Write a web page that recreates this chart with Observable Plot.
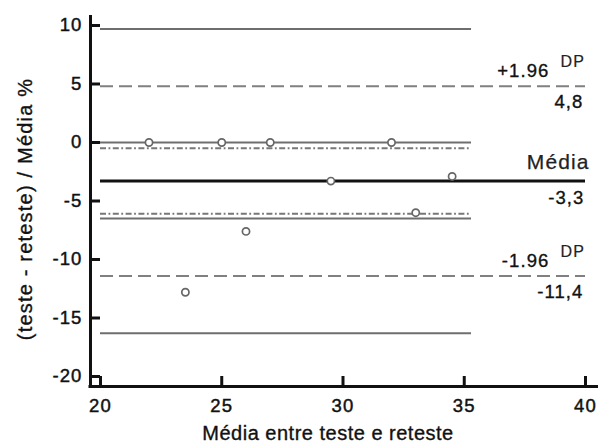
<!DOCTYPE html>
<html><head><meta charset="utf-8">
<script src="https://cdn.jsdelivr.net/npm/d3@7"></script>
<script src="https://cdn.jsdelivr.net/npm/@observablehq/plot@0.6"></script>
<style>
html,body{margin:0;padding:0;background:#fff;}
#chart svg{display:block;}
#chart svg text{letter-spacing:1.1px;}
</style></head><body><div id="chart"></div>
<script>
// ---- data ----
const xTicks = [20, 25, 30, 35, 40];
const yTicks = [10, 5, 0, -5, -10, -15, -20];
const xDomain = [20, 40];
const yDomain = [-20, 10];
const pointX = [22, 25, 27, 32, 29.5, 34.5, 33, 26, 23.5];
const pointY = [0, 0, 0, 0, -3.3, -2.9, -6.0, -7.6, -12.8];
const meanValue = [-3.3];
const limitValues = [4.8, -11.4];
const meanCI = [-0.5, -6.1];
const limitCI = [9.7, 0, -6.5, -16.3];
const shortSpan = [20, 35.3];
const fullSpan = [20, 40];
const limitLabels = ["+1.96", "-1.96"];
const limitUnit = ["DP", "DP"];
const limitValueLabels = ["4,8", "-11,4"];
const meanLabel = ["Média"];
const meanValueLabel = ["-3,3"];
const xLabel = "Média entre teste e reteste";
const yLabel = "(teste - reteste) / Média %";

const points = pointX.map((x, i) => ({x, y: pointY[i]}));
const font = "Liberation Sans, Arial, Helvetica, sans-serif";
const ink = {fill: "#111", stroke: "#111", strokeWidth: 0.35};

const chart = Plot.plot({
  width: 598,
  height: 444,
  marginLeft: 100,
  marginRight: 13,
  marginTop: 25,
  marginBottom: 68,
  style: {fontFamily: font, fontSize: "18.5px", color: "#111", background: "#fff"},
  x: {domain: xDomain},
  y: {domain: yDomain},
  marks: [
    // reference lines
    Plot.ruleY(limitCI, {y: d => d, x1: shortSpan[0], x2: shortSpan[1], stroke: "#6e6e6e", strokeWidth: 2}),
    Plot.ruleY(meanCI, {y: d => d, x1: shortSpan[0], x2: shortSpan[1], stroke: "#777", strokeWidth: 2, strokeDasharray: "6,2.5,1.8,2.5"}),
    Plot.ruleY(limitValues, {y: d => d, x1: fullSpan[0], x2: fullSpan[1], stroke: "#808080", strokeWidth: 2, strokeDasharray: "13,6"}),
    Plot.ruleY(meanValue, {y: d => d, x1: fullSpan[0], x2: fullSpan[1], stroke: "#111", strokeWidth: 3}),
    // points
    Plot.dot(points, {x: "x", y: "y", r: 3.6, stroke: "#666", strokeWidth: 1.7, fill: "#fff"}),
    // annotations
    Plot.text(limitValues, {x: () => fullSpan[1], y: d => d, text: (d, i) => limitLabels[i], textAnchor: "end", lineAnchor: "bottom", dx: -36, dy: -9, fontSize: 18.5, ...ink}),
    Plot.text(limitValues, {x: () => fullSpan[1], y: d => d, text: (d, i) => limitUnit[i], textAnchor: "start", lineAnchor: "bottom", dx: -25, dy: -19, fontSize: 16, fill: "#222", stroke: "#222", strokeWidth: 0.2}),
    Plot.text(limitValues, {x: () => fullSpan[1], y: d => d, text: (d, i) => limitValueLabels[i], textAnchor: "end", lineAnchor: "bottom", dx: -2, dy: 22, fontSize: 18.5, ...ink}),
    Plot.text(meanValue, {x: () => fullSpan[1], y: d => d, text: (d, i) => meanLabel[i], textAnchor: "end", lineAnchor: "bottom", dx: 4, dy: -12, fontSize: 21, fill: "#222", stroke: "#222", strokeWidth: 0.25}),
    Plot.text(meanValue, {x: () => fullSpan[1], y: d => d, text: (d, i) => meanValueLabel[i], textAnchor: "end", lineAnchor: "bottom", dx: -1, dy: 23, fontSize: 18.5, ...ink}),
    // axes
    Plot.ruleX([xDomain[0]], {dx: -10, insetTop: -10, insetBottom: -10, stroke: "#111", strokeWidth: 3}),
    Plot.ruleY([yDomain[0]], {dy: 10, insetLeft: -11.5, insetRight: -13, stroke: "#111", strokeWidth: 3}),
    Plot.axisY({ticks: yTicks, tickSize: -10, dx: -10, tickPadding: 18, tickFormat: d => String(d), label: null, stroke: "#111", strokeWidth: 3, fontSize: 18.5, fill: "#111"}),
    Plot.axisX({ticks: xTicks, tickSize: -10, dy: 10, tickPadding: 22, tickFormat: d => String(d), label: null, stroke: "#111", strokeWidth: 3, fontSize: 18.5, fill: "#111"}),
    Plot.text([xLabel], {text: d => d, frameAnchor: "bottom", textAnchor: "middle", lineAnchor: "bottom", dx: -15, dy: 63, fontSize: 20, ...ink}),
    Plot.text([yLabel], {text: d => d, frameAnchor: "left", textAnchor: "middle", rotate: -90, lineAnchor: "middle", dx: -75, dy: 8, fontSize: 20, ...ink})
  ]
});
// thicken axis tick labels slightly and tune label spacing
d3.select(chart).selectAll("g[aria-label$='tick label']")
  .attr("stroke", "#111").attr("stroke-width", 0.45);
d3.select(chart).selectAll("text").filter(function () { return this.textContent === xLabel; })
  .style("letter-spacing", "0.5px");
d3.select(chart).selectAll("text").filter(function () { return this.textContent === yLabel; })
  .style("letter-spacing", "1.2px");
document.getElementById("chart").appendChild(chart);
</script></body></html>
